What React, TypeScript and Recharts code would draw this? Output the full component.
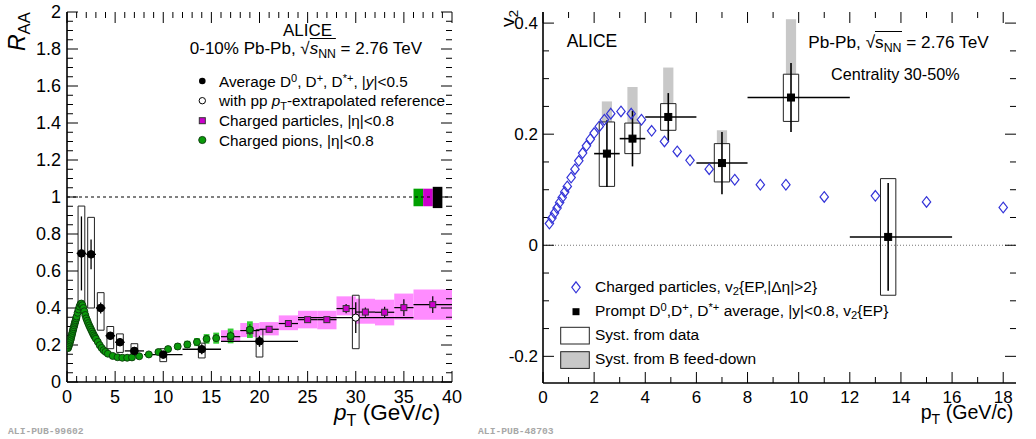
import React from "react";
import {
  ComposedChart,
  Scatter,
  XAxis,
  YAxis,
  ErrorBar,
  ReferenceArea,
  ReferenceLine,
} from "recharts";

const FONT = '"Liberation Sans", Arial, Helvetica, sans-serif';

// ---------- left panel: R_AA, 0-10% Pb-Pb ----------
// average D0, D+, D*+
const dPt = [1.5, 2.5, 3.5, 4.5, 5.5, 7, 10, 14, 20];
const dRaa = [0.695, 0.69, 0.4, 0.25, 0.215, 0.168, 0.148, 0.177, 0.22];
const dStat = [0.2, 0.08, 0.03, 0.02, 0.02, 0.02, 0.02, 0.027, 0.03];
const dBinLo = [1, 2, 3, 4, 5, 6, 8, 12, 16];
const dBinHi = [2, 3, 4, 5, 6, 8, 12, 16, 24];
const dSystLo = [0.427, 0.4, 0.28, 0.18, 0.16, 0.144, 0.11, 0.13, 0.135];
const dSystHi = [0.951, 0.89, 0.483, 0.3, 0.26, 0.207, 0.18, 0.21, 0.283];

// D with pp pT-extrapolated reference
const dExtPt = [30];
const dExtRaa = [0.348];
const dExtStat = [0.083];
const dExtBinLo = [24];
const dExtBinHi = [36];
const dExtSystLo = [0.18];
const dExtSystHi = [0.469];

// charged particles
const chPt = [17, 19, 21, 23, 25, 27, 29, 31, 33, 35, 38];
const chRaa = [0.245, 0.278, 0.285, 0.316, 0.337, 0.337, 0.397, 0.378, 0.377, 0.402, 0.418];
const chStat = [0.01, 0.012, 0.012, 0.012, 0.012, 0.015, 0.025, 0.025, 0.03, 0.045, 0.045];
const chBinLo = [16, 18, 20, 22, 24, 26, 28, 30, 32, 34, 36];
const chBinHi = [18, 20, 22, 24, 26, 28, 30, 32, 34, 36, 40];
const chSystLo = [0.216, 0.243, 0.252, 0.28, 0.29, 0.285, 0.36, 0.315, 0.306, 0.337, 0.337];
const chSystHi = [0.28, 0.319, 0.324, 0.36, 0.385, 0.385, 0.463, 0.45, 0.445, 0.478, 0.5];

// charged pions
const piPt = [
  0.1, 0.15, 0.2, 0.25, 0.3, 0.35, 0.4, 0.45, 0.5, 0.55, 0.6, 0.65, 0.7, 0.75, 0.8, 0.85, 0.9, 0.95, 1.0,
  1.1, 1.2, 1.3, 1.4, 1.5, 1.6, 1.7, 1.8, 1.9, 2.0, 2.1, 2.2, 2.3, 2.4, 2.5, 2.6, 2.7, 2.8, 2.9, 3.0,
  3.2, 3.4, 3.6, 3.8, 4.0, 4.25, 4.75, 5.25, 5.75, 6.25, 6.75,
  7.5, 8.5, 9.5, 10.5, 11.5, 12.5, 13.5, 14.5, 15.5, 17, 19,
];
const piRaa = [
  0.183, 0.19, 0.198, 0.207, 0.216, 0.224, 0.233, 0.244, 0.255, 0.265, 0.276, 0.286, 0.296, 0.306, 0.316, 0.325, 0.334, 0.344, 0.354,
  0.374, 0.392, 0.408, 0.421, 0.424, 0.415, 0.4, 0.382, 0.362, 0.344, 0.331, 0.318, 0.306, 0.295, 0.284, 0.273, 0.262, 0.252, 0.243, 0.234,
  0.217, 0.199, 0.184, 0.172, 0.163, 0.153, 0.141, 0.134, 0.131, 0.131, 0.133,
  0.139, 0.149, 0.162, 0.178, 0.192, 0.203, 0.216, 0.233, 0.237, 0.249, 0.283,
];
const piStat = [
  0.003, 0.003, 0.003, 0.003, 0.003, 0.003, 0.003, 0.003, 0.003, 0.003, 0.003, 0.003, 0.003, 0.003, 0.003, 0.003, 0.003, 0.003, 0.003,
  0.003, 0.003, 0.003, 0.003, 0.003, 0.003, 0.003, 0.003, 0.003, 0.003, 0.003, 0.003, 0.003, 0.003, 0.003, 0.003, 0.003, 0.003, 0.003, 0.003,
  0.004, 0.004, 0.004, 0.004, 0.004, 0.005, 0.005, 0.005, 0.005, 0.006, 0.006,
  0.006, 0.007, 0.008, 0.01, 0.012, 0.013, 0.015, 0.018, 0.02, 0.025, 0.03,
];
const piSyst = [
  0.008, 0.008, 0.008, 0.008, 0.008, 0.008, 0.008, 0.008, 0.008, 0.008, 0.008, 0.008, 0.008, 0.008, 0.008, 0.008, 0.008, 0.008, 0.008,
  0.008, 0.008, 0.008, 0.008, 0.008, 0.008, 0.008, 0.008, 0.008, 0.008, 0.008, 0.008, 0.008, 0.008, 0.008, 0.008, 0.008, 0.008, 0.008, 0.008,
  0.008, 0.008, 0.008, 0.008, 0.008, 0.009, 0.009, 0.01, 0.01, 0.011, 0.011,
  0.012, 0.013, 0.014, 0.016, 0.018, 0.02, 0.022, 0.026, 0.03, 0.04, 0.045,
];

// normalisation uncertainties drawn at R_AA = 1 (pions, charged, D)
const normPt = [36.5, 37.5, 38.5];
const normLo = [0.95, 0.95, 0.94];
const normHi = [1.045, 1.045, 1.055];
const normColors = ["#00a000", "#cc00cc", "#000000"];

// ---------- right panel: v2, 30-50% ----------
const hPt = [
  0.25, 0.35, 0.45, 0.55, 0.65, 0.75, 0.85, 0.95, 1.1, 1.25, 1.4, 1.55, 1.7, 1.85, 2.0, 2.2, 2.4,
  2.65, 3.05, 3.45, 3.85, 4.25, 4.75, 5.25, 5.75, 6.5, 7.5, 8.5, 9.5, 11, 13, 15, 18,
];
const hV2 = [
  0.039, 0.049, 0.058, 0.067, 0.077, 0.086, 0.096, 0.106, 0.122, 0.137, 0.152, 0.166, 0.179, 0.191, 0.202, 0.214, 0.226,
  0.237, 0.241, 0.237, 0.226, 0.206, 0.187, 0.169, 0.153, 0.137, 0.118, 0.109, 0.109, 0.087, 0.089, 0.078, 0.068,
];

const v2DPt = [2.5, 3.5, 4.9, 7.0, 9.7, 13.5];
const v2D = [0.165, 0.192, 0.231, 0.148, 0.266, 0.015];
const v2DStat = [0.06, 0.05, 0.043, 0.056, 0.062, 0.097];
const v2DBinLo = [2, 3, 4, 6, 8, 12];
const v2DBinHi = [3, 4, 6, 8, 12, 16];
const v2DSystLo = [0.106, 0.165, 0.207, 0.114, 0.223, -0.09];
const v2DSystHi = [0.222, 0.22, 0.255, 0.183, 0.308, 0.12];
const v2DFeedHi = [0.259, 0.285, 0.32, 0.207, 0.407, 0.12];

// ---------- axes ----------
const steps = (a: number, b: number, s: number) =>
  Array.from({ length: Math.round((b - a) / s) + 1 }, (_, i) => +(a + i * s).toFixed(4));

const raaXMajor = [0, 5, 10, 15, 20, 25, 30, 35, 40];
const raaXTicks = steps(0, 40, 1);
const raaYMajor = [0, 0.2, 0.4, 0.6, 0.8, 1, 1.2, 1.4, 1.6, 1.8, 2];
const raaYTicks = steps(0, 2, 0.05);
const v2XMajor = [0, 2, 4, 6, 8, 10, 12, 14, 16, 18];
const v2XTicks = steps(0, 18, 1);
const v2YMajor = [-0.2, 0, 0.2, 0.4];
const v2YTicks = steps(-0.2, 0.4, 0.05);

const RAA_X: [number, number] = [0, 40];
const RAA_Y: [number, number] = [0, 2];
const V2_X: [number, number] = [0, 18.5];
const V2_Y: [number, number] = [-0.248, 0.42];

const fmtNum = (v: number) => (Number.isInteger(v) ? String(v) : v.toFixed(1));
const isMajor = (v: number, majors: number[]) => majors.some((m) => Math.abs(m - v) < 1e-6);

const frame = { stroke: "#000", strokeWidth: 1.6 };

// tick labels only
function TickLabel(props: any) {
  const { x, y, payload, side, majors, fs = 18, off = 20 } = props;
  const v = payload.value;
  if (!isMajor(v, majors)) return <g />;
  if (side === "bottom")
    return (
      <text x={x} y={y + off} textAnchor="middle" fontSize={fs} fontFamily={FONT} fill="#000">
        {fmtNum(v)}
      </text>
    );
  return (
    <text x={x - off} y={y + 0.36 * fs} textAnchor="end" fontSize={fs} fontFamily={FONT} fill="#000">
      {fmtNum(v)}
    </text>
  );
}

// inward ROOT-style tick marks on all four sides, drawn as short reference segments
// lenX = [major, minor] length of vertical marks in y units, lenY = same for horizontal marks in x units
function frameTicks(
  id: string,
  xTicks: number[],
  xMajor: number[],
  yTicks: number[],
  yMajor: number[],
  xDom: [number, number],
  yDom: [number, number],
  lenX: [number, number],
  lenY: [number, number]
) {
  const out: React.ReactNode[] = [];
  const common = { stroke: "#000", strokeWidth: 1, ifOverflow: "visible" as const };
  xTicks.forEach((t) => {
    const L = isMajor(t, xMajor) ? lenX[0] : lenX[1];
    out.push(
      <ReferenceLine key={`${id}b${t}`} segment={[{ x: t, y: yDom[0] }, { x: t, y: yDom[0] + L }]} {...common} />,
      <ReferenceLine key={`${id}t${t}`} segment={[{ x: t, y: yDom[1] }, { x: t, y: yDom[1] - L }]} {...common} />
    );
  });
  yTicks.forEach((t) => {
    const L = isMajor(t, yMajor) ? lenY[0] : lenY[1];
    out.push(
      <ReferenceLine key={`${id}l${t}`} segment={[{ x: xDom[0], y: t }, { x: xDom[0] + L, y: t }]} {...common} />,
      <ReferenceLine key={`${id}r${t}`} segment={[{ x: xDom[1], y: t }, { x: xDom[1] - L, y: t }]} {...common} />
    );
  });
  return out;
}

const dot = (r: number, fill: string, stroke: string, sw: number) => (p: any) => (
  <circle cx={p.cx} cy={p.cy} r={r} fill={fill} stroke={stroke} strokeWidth={sw} />
);
const square = (a: number, fill: string, stroke: string, sw: number) => (p: any) => (
  <rect x={p.cx - a / 2} y={p.cy - a / 2} width={a} height={a} fill={fill} stroke={stroke} strokeWidth={sw} />
);
const diamond = (p: any) => (
  <polygon
    points={`${p.cx},${p.cy - 5.3} ${p.cx + 4.2},${p.cy} ${p.cx},${p.cy + 5.3} ${p.cx - 4.2},${p.cy}`}
    fill="none"
    stroke="#3434d8"
    strokeWidth={1.2}
  />
);

function RaaChart() {
  const dData = dPt.map((x, i) => ({ x, y: dRaa[i], ex: [x - dBinLo[i], dBinHi[i] - x], ey: dStat[i] }));
  const extData = dExtPt.map((x, i) => ({ x, y: dExtRaa[i], ex: [x - dExtBinLo[i], dExtBinHi[i] - x], ey: dExtStat[i] }));
  const chData = chPt.map((x, i) => ({ x, y: chRaa[i], ex: [x - chBinLo[i], chBinHi[i] - x], ey: chStat[i] }));
  const piData = piPt.map((x, i) => ({ x, y: piRaa[i], ey: piStat[i] }));
  const boxHalf = 0.35;
  return (
    <ComposedChart width={470} height={439} margin={{ top: 12, right: 18, bottom: 0, left: 0 }}>
      <XAxis
        type="number"
        dataKey="x"
        domain={RAA_X}
        allowDataOverflow
        ticks={raaXTicks}
        interval={0}
        height={57}
        tickSize={0}
        tickMargin={0}
        tickLine={false}
        axisLine={frame}
        tick={(p: any) => <TickLabel {...p} side="bottom" majors={raaXMajor} fs={18} off={20.7} />}
      />
      <XAxis xAxisId="top" orientation="top" type="number" domain={RAA_X} allowDataOverflow height={0} tick={false} tickLine={false} axisLine={frame} />
      <YAxis
        type="number"
        dataKey="y"
        domain={RAA_Y}
        allowDataOverflow
        ticks={raaYTicks}
        interval={0}
        width={67}
        tickSize={0}
        tickMargin={0}
        tickLine={false}
        axisLine={frame}
        tick={(p: any) => <TickLabel {...p} side="left" majors={raaYMajor} fs={18} off={6} />}
      />
      <YAxis yAxisId="right" orientation="right" type="number" domain={RAA_Y} allowDataOverflow width={0} tick={false} tickLine={false} axisLine={frame} />

      {/* charged particles systematic band */}
      {chPt.map((_, i) => (
        <ReferenceArea
          key={`chs${i}`}
          x1={chBinLo[i]}
          x2={chBinHi[i]}
          y1={chSystLo[i]}
          y2={chSystHi[i]}
          fill="#ff8cff"
          fillOpacity={1}
          stroke="none"
        />
      ))}
      <ReferenceLine y={1} stroke="#000" strokeWidth={1} strokeDasharray="3 3" />

      {/* pion systematics */}
      {piPt.map((x, i) => (
        <ReferenceArea
          key={`pis${i}`}
          x1={x - 0.3}
          x2={x + 0.3}
          y1={piRaa[i] - piSyst[i]}
          y2={piRaa[i] + piSyst[i]}
          fill="#33cc33"
          fillOpacity={1}
          stroke="none"
        />
      ))}

      {/* D meson systematics */}
      {dPt.map((x, i) => (
        <ReferenceArea
          key={`ds${i}`}
          x1={x - boxHalf}
          x2={x + boxHalf}
          y1={dSystLo[i]}
          y2={dSystHi[i]}
          fill="none"
          stroke="#222"
          strokeWidth={1}
        />
      ))}
      {dExtPt.map((x, i) => (
        <ReferenceArea
          key={`des${i}`}
          x1={x - boxHalf}
          x2={x + boxHalf}
          y1={dExtSystLo[i]}
          y2={dExtSystHi[i]}
          fill="none"
          stroke="#222"
          strokeWidth={1}
        />
      ))}

      {/* normalisation boxes */}
      {normPt.map((x, i) => (
        <ReferenceArea
          key={`n${i}`}
          x1={x - 0.5}
          x2={x + 0.5}
          y1={normLo[i]}
          y2={normHi[i]}
          fill={normColors[i]}
          fillOpacity={1}
          stroke="none"
        />
      ))}

      {frameTicks("raa", raaXTicks, raaXMajor, raaYTicks, raaYMajor, RAA_X, RAA_Y, [0.0595, 0.0324], [1.143, 0.623])}

      <Scatter data={chData} dataKey="y" isAnimationActive={false} shape={square(6, "#cc00cc", "#333", 1)}>
        <ErrorBar dataKey="ex" direction="x" width={0} stroke="#000" strokeWidth={1.2} />
        <ErrorBar dataKey="ey" direction="y" width={0} stroke="#000" strokeWidth={1.2} />
      </Scatter>
      <Scatter data={piData} dataKey="y" isAnimationActive={false} shape={dot(3.5, "#0a9a0a", "#0a3a0a", 0.9)}>
        <ErrorBar dataKey="ey" direction="y" width={0} stroke="#0a5a0a" strokeWidth={1.2} />
      </Scatter>
      <Scatter data={dData} dataKey="y" isAnimationActive={false} shape={dot(3.8, "#000", "#000", 1)}>
        <ErrorBar dataKey="ex" direction="x" width={0} stroke="#000" strokeWidth={1.3} />
        <ErrorBar dataKey="ey" direction="y" width={0} stroke="#000" strokeWidth={1.3} />
      </Scatter>
      <Scatter data={extData} dataKey="y" isAnimationActive={false} shape={dot(3.6, "#fff", "#000", 1)}>
        <ErrorBar dataKey="ex" direction="x" width={0} stroke="#000" strokeWidth={1.3} />
        <ErrorBar dataKey="ey" direction="y" width={0} stroke="#000" strokeWidth={1.3} />
      </Scatter>
    </ComposedChart>
  );
}

function V2Chart() {
  const hData = hPt.map((x, i) => ({ x, y: hV2[i] }));
  const dData = v2DPt.map((x, i) => ({ x, y: v2D[i], ex: [x - v2DBinLo[i], v2DBinHi[i] - x], ey: v2DStat[i] }));
  return (
    <ComposedChart width={566} height={439} margin={{ top: 12, right: 20, bottom: 0, left: 0 }}>
      <XAxis
        type="number"
        dataKey="x"
        domain={V2_X}
        allowDataOverflow
        ticks={v2XTicks}
        interval={0}
        height={56}
        tickSize={0}
        tickMargin={0}
        tickLine={false}
        axisLine={frame}
        tick={(p: any) => <TickLabel {...p} side="bottom" majors={v2XMajor} fs={17} off={19.5} />}
      />
      <XAxis xAxisId="top" orientation="top" type="number" domain={V2_X} allowDataOverflow height={0} tick={false} tickLine={false} axisLine={frame} />
      <YAxis
        type="number"
        dataKey="y"
        domain={V2_Y}
        allowDataOverflow
        ticks={v2YTicks}
        interval={0}
        width={73}
        tickSize={0}
        tickMargin={0}
        tickLine={false}
        axisLine={frame}
        tick={(p: any) => <TickLabel {...p} side="left" majors={v2YMajor} fs={17} off={5} />}
      />
      <YAxis yAxisId="right" orientation="right" type="number" domain={V2_Y} allowDataOverflow width={0} tick={false} tickLine={false} axisLine={frame} />

      <ReferenceLine y={0} stroke="#777" strokeWidth={1} strokeDasharray="1 2" />

      {/* B feed-down systematics */}
      {v2DPt.map((x, i) =>
        v2DFeedHi[i] > v2DSystHi[i] ? (
          <ReferenceArea
            key={`f${i}`}
            x1={x - 0.2}
            x2={x + 0.2}
            y1={v2DSystHi[i]}
            y2={v2DFeedHi[i]}
            fill="#c8c8c8"
            fillOpacity={1}
            stroke="none"
          />
        ) : null
      )}
      {/* systematics from data */}
      {v2DPt.map((x, i) => (
        <ReferenceArea
          key={`s${i}`}
          x1={x - 0.3}
          x2={x + 0.3}
          y1={v2DSystLo[i]}
          y2={v2DSystHi[i]}
          fill="none"
          stroke="#222"
          strokeWidth={1}
        />
      ))}

      {frameTicks("v2", v2XTicks, v2XMajor, v2YTicks, v2YMajor, V2_X, V2_Y, [0.0198, 0.0108], [0.43, 0.235])}

      <Scatter data={hData} dataKey="y" isAnimationActive={false} shape={diamond} />
      <Scatter data={dData} dataKey="y" isAnimationActive={false} shape={square(7, "#000", "#000", 1)}>
        <ErrorBar dataKey="ex" direction="x" width={0} stroke="#000" strokeWidth={1.6} />
        <ErrorBar dataKey="ey" direction="y" width={0} stroke="#000" strokeWidth={1.6} />
      </Scatter>
    </ComposedChart>
  );
}

// ---------- text overlay ----------
const ASC = 0.8465;

const Sub = ({ children }: { children: React.ReactNode }) => (
  <span style={{ fontSize: "0.72em", position: "relative", top: "0.32em" }}>{children}</span>
);
const Sup = ({ children }: { children: React.ReactNode }) => (
  <span style={{ fontSize: "0.72em", position: "relative", top: "-0.45em" }}>{children}</span>
);

function Txt(props: {
  x: number;
  y: number;
  fs: number;
  anchor?: "start" | "middle" | "end";
  style?: React.CSSProperties;
  children: React.ReactNode;
}) {
  const { x, y, fs, anchor = "start", style, children } = props;
  const tx = anchor === "middle" ? "translateX(-50%)" : anchor === "end" ? "translateX(-100%)" : undefined;
  return (
    <div
      style={{
        position: "absolute",
        left: x,
        top: y - ASC * fs,
        fontSize: fs,
        lineHeight: 1,
        whiteSpace: "nowrap",
        transform: tx,
        fontFamily: FONT,
        color: "#000",
        ...style,
      }}
    >
      {children}
    </div>
  );
}

function VTxt(props: { x: number; y: number; fs: number; children: React.ReactNode }) {
  const { x, y, fs, children } = props;
  return (
    <div
      style={{
        position: "absolute",
        left: x - ASC * fs,
        top: y,
        fontSize: fs,
        lineHeight: 1,
        whiteSpace: "nowrap",
        transform: "rotate(-90deg)",
        transformOrigin: "0 0",
        fontFamily: FONT,
      }}
    >
      {children}
    </div>
  );
}

const Sqrt = ({ italic }: { italic?: boolean }) => (
  <>
    √
    <span style={{ borderTop: "1px solid #000" }}>
      {italic ? <i>s</i> : "s"}
      <Sub>NN</Sub>
    </span>
  </>
);

const footStyle: React.CSSProperties = {
  fontFamily: '"Liberation Mono", monospace',
  color: "#a8a8a8",
  fontWeight: 700,
};

function Overlay() {
  return (
    <>
      <svg width={1036} height={439} style={{ position: "absolute", left: 0, top: 0, pointerEvents: "none" }}>
        {/* left legend markers */}
        <circle cx={202.3} cy={81} r={3.3} fill="#000" />
        <circle cx={202.3} cy={100.7} r={3.2} fill="#fff" stroke="#000" strokeWidth={1} />
        <rect x={199.3} y={117.7} width={6} height={6} fill="#cc00cc" stroke="#333" strokeWidth={1} />
        <circle cx={202.3} cy={140} r={3.6} fill="#0a9a0a" stroke="#0a3a0a" strokeWidth={0.9} />
        {/* right legend markers */}
        <polygon points="576,281.8 580.2,287.3 576,292.8 571.8,287.3" fill="none" stroke="#3434d8" strokeWidth={1.2} />
        <rect x={572.5} y={308.2} width={7} height={7} fill="#000" />
        <rect x={560.7} y={327.3} width={28.6} height={16.7} fill="none" stroke="#222" strokeWidth={1} />
        <rect x={560.7} y={351.7} width={28.6} height={16.7} fill="#c8c8c8" stroke="#222" strokeWidth={1} />
      </svg>

      {/* left panel */}
      <VTxt x={25} y={51} fs={23}>
        <i>R</i>
        <Sub>AA</Sub>
      </VTxt>
      <Txt x={307.5} y={36.7} fs={17} anchor="middle">
        ALICE
      </Txt>
      <Txt x={305.9} y={54} fs={17} anchor="middle">
        0-10% Pb-Pb, <Sqrt italic /> = 2.76 TeV
      </Txt>
      <Txt x={219} y={86.7} fs={15.3}>
        Average D<Sup>0</Sup>, D<Sup>+</Sup>, D<Sup>*+</Sup>, |<i>y</i>|&lt;0.5
      </Txt>
      <Txt x={219} y={106} fs={15.3}>
        with pp <i>p</i>
        <Sub>T</Sub>-extrapolated reference
      </Txt>
      <Txt x={219} y={126} fs={15.3}>
        Charged particles, |η|&lt;0.8
      </Txt>
      <Txt x={219} y={145.7} fs={15.3}>
        Charged pions, |η|&lt;0.8
      </Txt>
      <Txt x={334} y={421.5} fs={22.5}>
        <i>p</i>
        <Sub>T</Sub> (GeV/<i>c</i>)
      </Txt>
      <Txt x={8} y={435} fs={9.7} style={footStyle}>
        ALI-PUB-99602
      </Txt>

      {/* right panel */}
      <VTxt x={514} y={27} fs={19}>
        v<Sub>2</Sub>
      </VTxt>
      <Txt x={566.7} y={48.3} fs={17.5}>
        ALICE
      </Txt>
      <Txt x={808.3} y={48.3} fs={17.2}>
        Pb-Pb, <Sqrt /> = 2.76 TeV
      </Txt>
      <Txt x={831} y={80} fs={16.2}>
        Centrality 30-50%
      </Txt>
      <Txt x={595} y={291.7} fs={15.5}>
        Charged particles, v<Sub>2</Sub>
        {"{EP,|Δη|>2}"}
      </Txt>
      <Txt x={595} y={316} fs={15.5}>
        Prompt D<Sup>0</Sup>,D<Sup>+</Sup>, D<Sup>*+</Sup> average, |y|&lt;0.8, v<Sub>2</Sub>
        {"{EP}"}
      </Txt>
      <Txt x={595} y={340} fs={15.5}>
        Syst. from data
      </Txt>
      <Txt x={595} y={364} fs={15.5}>
        Syst. from B feed-down
      </Txt>
      <Txt x={920.7} y={420} fs={19.6}>
        p<Sub>T</Sub> (GeV/c)
      </Txt>
      <Txt x={478} y={435} fs={9.7} style={footStyle}>
        ALI-PUB-48703
      </Txt>
    </>
  );
}

export default function App() {
  return (
    <div
      style={{
        position: "absolute",
        left: 0,
        top: 0,
        width: 1036,
        height: 439,
        background: "#fff",
        overflow: "hidden",
        fontFamily: FONT,
      }}
    >
      <div style={{ position: "absolute", left: 0, top: 0 }}>
        <RaaChart />
      </div>
      <div style={{ position: "absolute", left: 470, top: 0 }}>
        <V2Chart />
      </div>
      <Overlay />
    </div>
  );
}
